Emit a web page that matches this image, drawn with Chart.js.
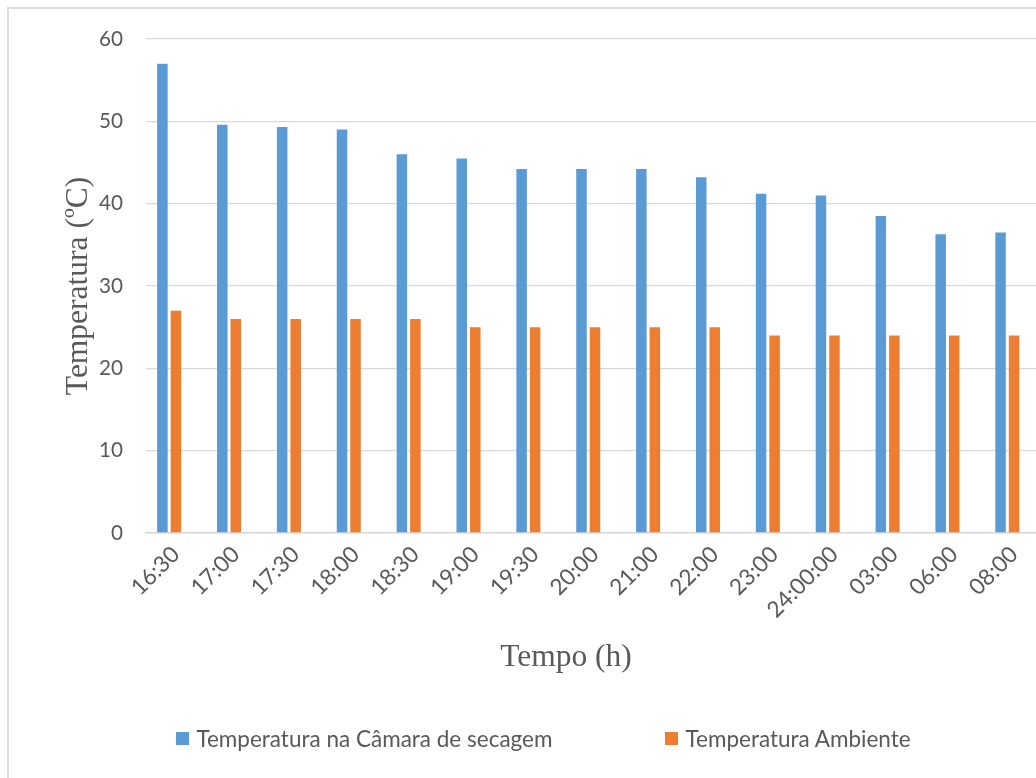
<!DOCTYPE html>
<html lang="pt">
<head>
<meta charset="utf-8">
<title>Temperatura na câmara de secagem e temperatura ambiente</title>
<script src="https://cdn.jsdelivr.net/npm/chart.js@4/dist/chart.umd.min.js"></script>
<style>
  html, body { margin: 0; padding: 0; background: #fff; }
  #stage { position: relative; width: 1036px; height: 778px; overflow: hidden; background: #fff; }
  #frame { position: absolute; left: 7px; top: 7px; width: 1100px; height: 900px;
           border: 2px solid #dedede; box-sizing: border-box; }
  #chart { position: absolute; left: 0; top: 0; }
  #legend { position: absolute; left: 0; top: 725px; width: 1087px; display: flex;
            justify-content: center; gap: 113px; font: 22.5px Lato, sans-serif; color: #595959; }
  .item { display: flex; align-items: center; white-space: nowrap; }
  .swatch { width: 13px; height: 13px; margin-right: 7px; flex: none; }
</style>
</head>
<body>
<div id="stage">
  <div id="frame"></div>
  <canvas id="chart" width="1050" height="778"></canvas>
  <div id="legend"></div>
</div>
<script>
// Horários das leituras
const categories = ['16:30', '17:00', '17:30', '18:00', '18:30', '19:00', '19:30', '20:00',
                    '21:00', '22:00', '23:00', '24:00:00', '03:00', '06:00', '08:00'];
// Temperatura na câmara de secagem (ºC)
const tempCamara = [57, 49.6, 49.3, 49, 46, 45.5, 44.2, 44.2, 44.2, 43.2, 41.2, 41, 38.5, 36.3, 36.5];
// Temperatura ambiente (ºC)
const tempAmbiente = [27, 26, 26, 26, 26, 25, 25, 25, 25, 25, 24, 24, 24, 24, 24];
// Escala vertical
const yTicks = [0, 10, 20, 30, 40, 50, 60];

const xTitle = 'Tempo (h)';
const yTitle = 'Temperatura (ºC)';

const textColor = '#595959';
const gridColor = '#d9d9d9';
const yTickFont = { family: 'Lato', size: 20.7 };
const xTickFont = { family: 'Lato', size: 22.5 };

// The workbook series has a third, empty slot in each group, so the pair sits left of centre
const emptySlot = categories.map(() => null);

// Axis title under the category labels
const xTitlePlugin = {
  id: 'xTitle',
  afterDraw(chart) {
    const ctx = chart.ctx;
    ctx.save();
    ctx.font = '31.5px "Liberation Serif", "Times New Roman", serif';
    ctx.fillStyle = textColor;
    ctx.textAlign = 'center';
    ctx.textBaseline = 'middle';
    ctx.fillText(xTitle, 566, 658);
    ctx.restore();
  }
};

// Legend rendered as HTML from the chart's own datasets
const htmlLegendPlugin = {
  id: 'htmlLegend',
  afterUpdate(chart) {
    const box = document.getElementById('legend');
    box.innerHTML = '';
    const items = Chart.defaults.plugins.legend.labels.generateLabels(chart)
      .filter(it => it.text);
    items.forEach(it => {
      const el = document.createElement('div');
      el.className = 'item';
      const sw = document.createElement('span');
      sw.className = 'swatch';
      sw.style.background = it.fillStyle;
      const tx = document.createElement('span');
      tx.textContent = it.text;
      el.appendChild(sw);
      el.appendChild(tx);
      box.appendChild(el);
    });
  }
};

new Chart(document.getElementById('chart'), {
  type: 'bar',
  data: {
    labels: categories,
    datasets: [
      { label: 'Temperatura na Câmara de secagem', data: tempCamara, backgroundColor: '#5B9BD5' },
      { label: 'Temperatura Ambiente', data: tempAmbiente, backgroundColor: '#ED7D31' },
      { label: '', data: emptySlot, backgroundColor: 'rgba(0,0,0,0)' }
    ]
  },
  options: {
    responsive: false,
    animation: false,
    datasets: { bar: { categoryPercentage: 0.677, barPercentage: 0.778 } },
    layout: { padding: { left: 50, right: 6, top: 39, bottom: 0 } },
    plugins: { legend: { display: false }, tooltip: { enabled: false } },
    scales: {
      x: {
        grid: { display: false, drawTicks: false },
        border: { display: true, color: gridColor, width: 1.5 },
        ticks: { color: textColor, font: xTickFont, minRotation: 45, maxRotation: 45,
                 autoSkip: false, padding: 8 },
        afterFit(scale) { scale.height = 778 - 533; }
      },
      y: {
        min: yTicks[0],
        max: yTicks[yTicks.length - 1],
        ticks: { stepSize: yTicks[1] - yTicks[0], color: textColor, font: yTickFont, padding: 23 },
        grid: { color: gridColor, lineWidth: 1.3, drawTicks: false },
        border: { display: false },
        title: { display: true, text: yTitle, color: textColor,
                 font: { family: '"Liberation Serif", "Times New Roman", serif', size: 31.5 },
                 padding: { top: 10, bottom: 0 } },
        afterFit(scale) { scale.width = 96; }
      }
    }
  },
  plugins: [xTitlePlugin, htmlLegendPlugin]
});
</script>
</body>
</html>
